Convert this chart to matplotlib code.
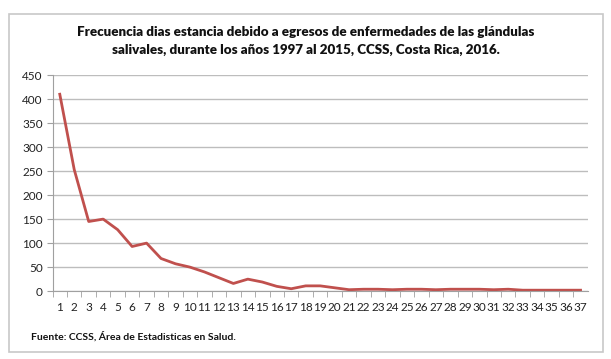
import matplotlib.pyplot as plt
from matplotlib.patches import Rectangle

dias = list(range(1, 38))
frecuencia = [410, 253, 145, 150, 128, 93, 100, 68, 57, 50,
              40, 28, 16, 25, 19, 10, 5, 11, 11, 7,
              3, 4, 4, 3, 4, 4, 3, 4, 4, 4,
              3, 4, 2, 2, 2, 2, 2]

titulo = ("Frecuencia dias estancia debido a egresos de enfermedades de las glándulas\n"
          "salivales, durante los años 1997 al 2015, CCSS, Costa Rica, 2016.")
fuente = "Fuente: CCSS, Área de Estadisticas en Salud."

plt.rcParams["font.family"] = ["Lato", "DejaVu Sans"]

fig = plt.figure(figsize=(6.11, 3.59), dpi=100)
fig.patches.append(Rectangle((0.015, 0.02), 0.972, 0.94, transform=fig.transFigure,
                             fill=False, edgecolor="#c8c8c8", linewidth=1.2))

ax = fig.add_axes([0.086, 0.189, 0.876, 0.602])
ax.plot(dias, frecuencia, color="#c0504d", linewidth=2)

ax.set_xlim(0.5, 37.5)
ax.set_ylim(0, 450)
ax.set_yticks(range(0, 451, 50))
ax.set_xticks(dias)
ax.set_xticks([d + 0.5 for d in range(0, 37)], minor=True)
ax.tick_params(axis="x", which="major", length=0, pad=8, labelsize=8.5, labelcolor="#222222")
ax.tick_params(axis="x", which="minor", length=4, color="#a0a0a0", direction="out")
ax.tick_params(axis="y", length=4, color="#a0a0a0", labelsize=8.5, pad=3, labelcolor="#222222")
ax.grid(axis="y", color="#bdbdbd", linewidth=1)
ax.set_axisbelow(True)
for s in ["top", "right"]:
    ax.spines[s].set_visible(False)
for s in ["left", "bottom"]:
    ax.spines[s].set_color("#a0a0a0")

fig.text(0.5, 0.885, titulo, ha="center", va="center", fontsize=9.6,
         fontweight="heavy", linespacing=1.55, color="#111111")
fig.text(0.05, 0.062, fuente, ha="left", va="center", fontsize=7.5, fontweight="bold",
         color="#111111")

fig.savefig("out.png", dpi=100)
